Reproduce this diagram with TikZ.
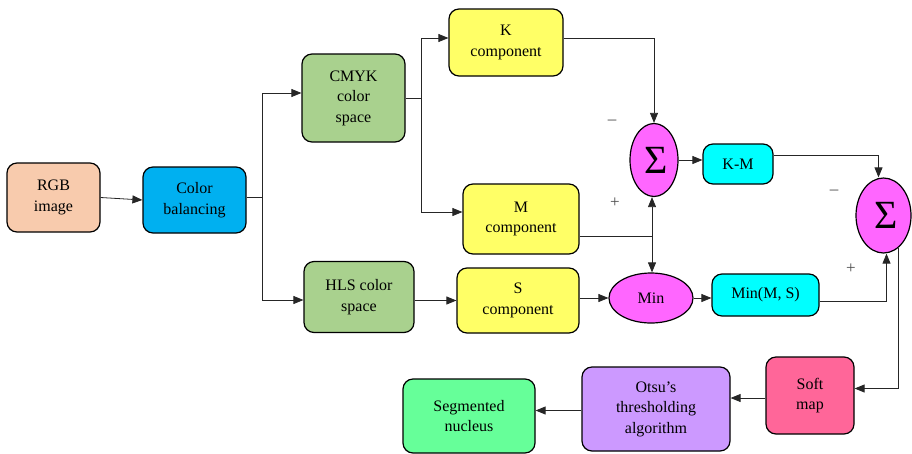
\documentclass[tikz,border=0pt]{standalone}
\usepackage{fontspec}
\setmainfont{Liberation Serif}
\usetikzlibrary{arrows.meta,shapes.geometric,calc}
\definecolor{rgbc}{HTML}{F8CBAD}
\definecolor{cbc}{HTML}{00B0F0}
\definecolor{greenc}{HTML}{A9D18E}
\definecolor{yellowc}{HTML}{FFFF66}
\definecolor{magc}{HTML}{FF66FF}
\definecolor{cyanc}{HTML}{00FFFF}
\definecolor{softc}{HTML}{FF6699}
\definecolor{otsuc}{HTML}{CC99FF}
\definecolor{segc}{HTML}{66FF99}
\tikzset{
  box/.style={draw=black, line width=1.2pt, rounded corners=10pt, inner sep=0pt, align=center,
    font=\fontsize{16}{20.5}\selectfont},
  ell/.style={draw=black, line width=1.2pt, ellipse, inner sep=0pt, fill=magc, align=center},
  ln/.style={draw=black!85, line width=0.8pt},
  arr/.style={ln, -{Triangle[length=10pt,width=8pt]}},
  sgn/.style={font=\fontsize{17}{17}\selectfont, text=black!70, inner sep=0pt},
  sig/.style={font=\fontsize{40}{40}\selectfont}
}
\begin{document}
\begin{tikzpicture}[x=1pt,y=-1pt]
\useasboundingbox (0,0) rectangle (912,453);
% nodes
\node[box, fill=rgbc, minimum width=93pt, minimum height=69pt] (rgb) at (53.5,197.5) {RGB\\image};
\node[box, fill=cbc, minimum width=103pt, minimum height=66pt] (cb) at (194.5,200) {Color\\balancing};
\node[box, fill=greenc, minimum width=103pt, minimum height=88pt] (cmyk) at (353.5,98) {CMYK\\color\\space};
\node[box, fill=greenc, minimum width=110pt, minimum height=71pt] (hls) at (359,297) {HLS color\\space};
\node[box, fill=yellowc, minimum width=114pt, minimum height=67pt] (k) at (506,42.5) {K\\component};
\node[box, fill=yellowc, minimum width=116pt, minimum height=70pt] (m) at (521,219) {M\\component};
\node[box, fill=yellowc, minimum width=122pt, minimum height=65pt] (s) at (518,300.5) {S\\component};
\node[ell, minimum width=48pt, minimum height=73pt] (s1) at (654,160) {};
\node[sig] at ([xshift=2pt]s1) {Σ};
\node[box, fill=cyanc, minimum width=70pt, minimum height=40pt] (km) at (738,164) {K-M};
\node[ell, minimum width=55pt, minimum height=75pt] (s2) at (883.5,215.5) {};
\node[sig] at ([xshift=3pt]s2) {Σ};
\node[ell, minimum width=84pt, minimum height=50pt, font=\fontsize{16}{20}\selectfont] (mn) at (651,298) {Min};
\node[box, fill=cyanc, minimum width=107pt, minimum height=42pt] (mms) at (765.5,295) {Min(M, S)};
\node[box, fill=softc, minimum width=88pt, minimum height=77pt] (soft) at (810,395.5) {Soft\\map};
\node[box, fill=otsuc, minimum width=148pt, minimum height=84pt] (otsu) at (656,409) {Otsu’s\\thresholding\\algorithm};
\node[box, fill=segc, minimum width=132pt, minimum height=74pt] (seg) at (469,416) {Segmented\\nucleus};
% signs
\node[sgn] (sg1) at (612,122) {–};
\node[sgn] (sg2) at (615,203) {+};
\node[sgn] (sg3) at (834,192) {–};
\node[sgn] (sg4) at (851,269) {+};
% connectors
\draw[arr] (rgb.east) -- (cb.west);
\coordinate (j1) at (262,197);
\draw[ln] (cb.east |- j1) -- (j1);
\draw[arr] (j1) |- ([yshift=5pt]cmyk.west);
\draw[arr] (j1) |- ([yshift=-3pt]hls.west);
\coordinate (j2) at (421,98);
\draw[ln] (cmyk.east) -- (j2);
\draw[arr] (j2) |- ([yshift=4.5pt]k.west);
\draw[arr] (j2) |- ([yshift=7pt]m.west);
\draw[arr] ([yshift=4.5pt]k.east) -| (s1.north);
\coordinate (j3) at (652,236);
\draw[ln] (m.east |- j3) -- (j3);
\draw[arr] (j3) -- (j3 |- s1.south);
\draw[arr] (j3) -- (j3 |- mn.north);
\draw[arr] (s1.east) -- (s1.east -| km.west);
\draw[arr] ([yshift=9pt]km.east) -| ([xshift=-5pt]s2.north);
\draw[arr] (s.east |- mn.west) -- (mn.west);
\draw[arr] (mn.east) -- (mn.east -| mms.west);
\draw[arr] ([yshift=-6pt]mms.east) -| ([xshift=3pt]s2.south);
\draw[arr] (s2.-65) |- ([yshift=7pt]soft.east);
\draw[arr] ([yshift=-2.5pt]soft.west) -- ([yshift=-2.5pt]soft.west -| otsu.east);
\draw[arr] ([yshift=-1.5pt]otsu.west) -- ([yshift=-1.5pt]otsu.west -| seg.east);
\draw[arr] (hls.east |- s) -- (s.west);
\end{tikzpicture}
\end{document}
